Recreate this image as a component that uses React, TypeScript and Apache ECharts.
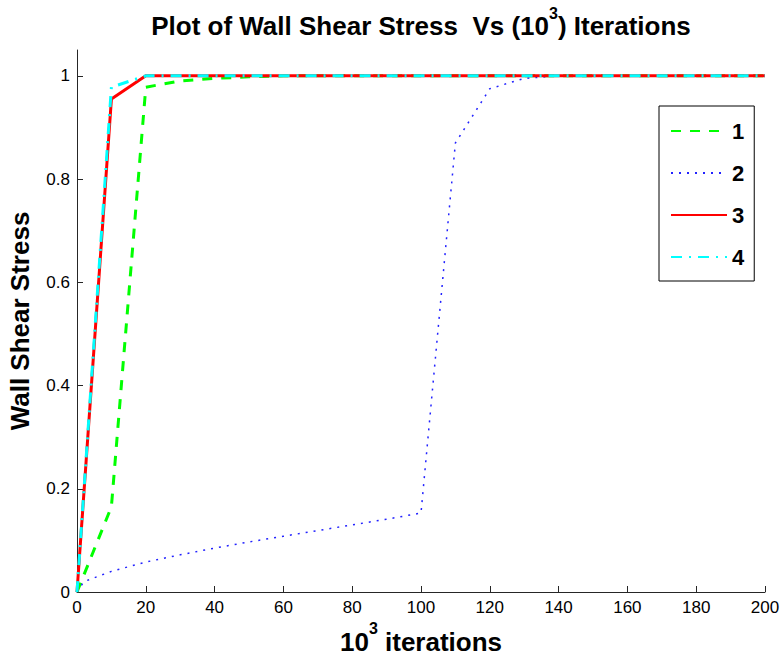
import React, { useEffect, useRef } from "react";
import * as echarts from "echarts";

const xTicks = [0, 20, 40, 60, 80, 100, 120, 140, 160, 180, 200];
const yTicks = [0, 0.2, 0.4, 0.6, 0.8, 1];

const names = ["1", "2", "3", "4"];

const x1 = [0, 10, 20, 30, 40, 50, 60, 70, 80, 90, 100, 110, 120, 130, 140, 150, 160, 170, 180, 190, 200];
const y1 = [0, 0.165, 0.978, 0.99, 0.995, 0.998, 1, 1, 1, 1, 1, 1, 1, 1, 1, 1, 1, 1, 1, 1, 1];

const x2 = [0, 2, 10, 20, 30, 40, 50, 60, 70, 80, 90, 100, 110, 120, 130, 140, 150, 160, 170, 180, 190, 200];
const y2 = [0, 0.02, 0.04, 0.058, 0.072, 0.085, 0.097, 0.108, 0.119, 0.13, 0.141, 0.153, 0.87, 0.975, 0.995, 1, 1, 1, 1, 1, 1, 1];

const x3 = [0, 10, 20, 30, 40, 50, 60, 70, 80, 90, 100, 110, 120, 130, 140, 150, 160, 170, 180, 190, 200];
const y3 = [0, 0.955, 1, 1, 1, 1, 1, 1, 1, 1, 1, 1, 1, 1, 1, 1, 1, 1, 1, 1, 1];

const x4 = [0, 10, 20, 30, 40, 50, 60, 70, 80, 90, 100, 110, 120, 130, 140, 150, 160, 170, 180, 190, 200];
const y4 = [0, 0.978, 1, 1, 1, 1, 1, 1, 1, 1, 1, 1, 1, 1, 1, 1, 1, 1, 1, 1, 1];

const zip = (xs: number[], ys: number[]) => xs.map((x, i) => [x, ys[i]]);

const FONT = "'Liberation Sans', Arial, Helvetica, sans-serif";

export default function App() {
  const ref = useRef<HTMLDivElement>(null);
  useEffect(() => {
    if (!ref.current) return;
    const chart = echarts.init(ref.current, null, { renderer: "svg" });
    const axisColor = "#262626";
    chart.setOption({
      animation: false,
      backgroundColor: "#ffffff",
      textStyle: { fontFamily: FONT },
      grid: { left: 77, right: 17, top: 50, bottom: 65, outerBoundsMode: "none" },
      graphic: [
        {
          type: "text",
          x: 421,
          y: 5,
          style: {
            text: "{t|Plot of Wall Shear Stress  Vs (10}{s|3}{t|) Iterations}",
            align: "center",
            rich: {
              t: { fontSize: 26, fontWeight: "bold", fontFamily: FONT, fill: "#000", lineHeight: 34, verticalAlign: "bottom" },
              s: { fontSize: 16, fontWeight: "bold", fontFamily: FONT, fill: "#000", lineHeight: 34, verticalAlign: "top" },
            },
          },
        },
      ],
      xAxis: {
        type: "value",
        min: 0,
        max: 200,
        interval: 20,
        name: "{t|10}{s|3}{t| iterations}",
        nameLocation: "middle",
        nameGap: 27,
        nameTextStyle: {
          rich: {
            t: { fontSize: 26, fontWeight: "bold", fontFamily: FONT, color: "#000", lineHeight: 34, verticalAlign: "bottom" },
            s: { fontSize: 16, fontWeight: "bold", fontFamily: FONT, color: "#000", lineHeight: 34, verticalAlign: "top" },
          },
        },
        axisLine: { lineStyle: { color: axisColor, width: 1 } },
        axisTick: { inside: true, length: 6, lineStyle: { color: axisColor }, customValues: xTicks },
        axisLabel: { fontSize: 17, color: "#000", margin: 7, fontFamily: FONT, customValues: xTicks },
        splitLine: { show: false },
      },
      yAxis: {
        type: "value",
        min: 0,
        max: 1.05,
        name: "Wall Shear Stress",
        nameLocation: "middle",
        nameGap: 44,
        nameTextStyle: { fontSize: 26, fontWeight: "bold", color: "#000", fontFamily: FONT },
        axisLine: { show: true, lineStyle: { color: axisColor, width: 1 } },
        axisTick: { show: true, inside: true, length: 6, lineStyle: { color: axisColor }, customValues: yTicks },
        axisLabel: { fontSize: 17, color: "#000", margin: 7, fontFamily: FONT, customValues: yTicks },
        splitLine: { show: false },
      },
      legend: {
        orient: "vertical",
        left: 659,
        top: 106,
        padding: [14, 10, 13, 11],
        itemWidth: 56,
        itemHeight: 14,
        itemGap: 20,
        borderColor: "#000",
        borderWidth: 1,
        backgroundColor: "#fff",
        data: names,
        itemStyle: { opacity: 0, color: "transparent", borderWidth: 0 },
        textStyle: { fontSize: 22, fontWeight: "bold", color: "#000", fontFamily: FONT },
      },
      series: [
        {
          name: names[0],
          type: "line",
          data: zip(x1, y1),
          symbol: "none",
          color: "#00ff00",
          lineStyle: { color: "#00ff00", width: 3, type: [10, 9] },
        },
        {
          name: names[1],
          type: "line",
          data: zip(x2, y2),
          symbol: "none",
          color: "#0000ff",
          lineStyle: { color: "#2222ff", width: 1.5, type: [2, 6] },
        },
        {
          name: names[2],
          type: "line",
          data: zip(x3, y3),
          symbol: "none",
          color: "#ff0000",
          lineStyle: { color: "#ff0000", width: 3, type: "solid" },
        },
        {
          name: names[3],
          type: "line",
          data: zip(x4, y4),
          symbol: "none",
          color: "#00ffff",
          lineStyle: { color: "#00ffff", width: 3, type: [11, 7, 2, 7] },
        },
      ],
    });
    return () => chart.dispose();
  }, []);
  return <div ref={ref} style={{ position: "fixed", left: 0, top: 0, width: 782, height: 657 }} />;
}
